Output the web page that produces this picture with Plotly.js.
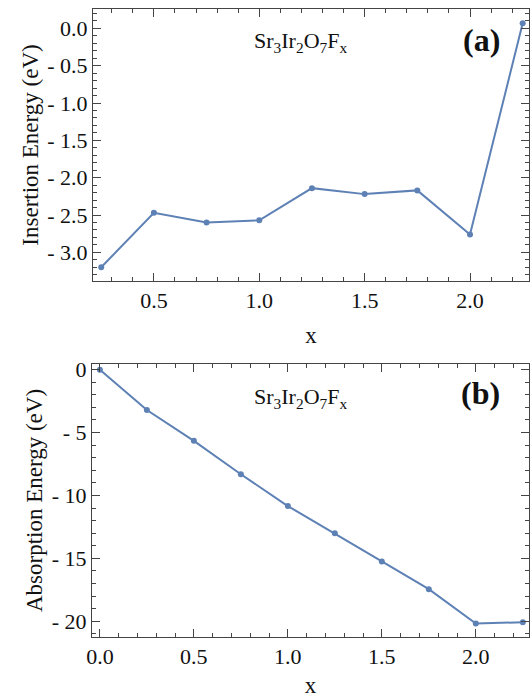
<!DOCTYPE html>
<html>
<head>
<meta charset="utf-8">
<script src="https://cdn.plot.ly/plotly-3.0.1.min.js"></script>
<style>html,body{margin:0;padding:0;background:#fff;}.panel{width:531px;height:349px;}</style>
</head>
<body>
<div id="top" class="panel"></div>
<div id="bottom" class="panel"></div>
<script>
// Data
const xInsertion = [0.25, 0.5, 0.75, 1.0, 1.25, 1.5, 1.75, 2.0, 2.25];
const insertionEnergy = [-3.20, -2.47, -2.60, -2.57, -2.14, -2.22, -2.17, -2.76, 0.07];
const xAbsorption = [0.0, 0.25, 0.5, 0.75, 1.0, 1.25, 1.5, 1.75, 2.0, 2.25];
const absorptionEnergy = [0.0, -3.21, -5.66, -8.31, -10.84, -13.01, -15.24, -17.45, -20.18, -20.08];

const topXTickVals = [0.5, 1.0, 1.5, 2.0];
const topXTickText = ["0.5", "1.0", "1.5", "2.0"];
const topYTickVals = [0.0, -0.5, -1.0, -1.5, -2.0, -2.5, -3.0];
const topYTickText = ["0.0", "- 0.5", "- 1.0", "- 1.5", "- 2.0", "- 2.5", "- 3.0"];
const botXTickVals = [0.0, 0.5, 1.0, 1.5, 2.0];
const botXTickText = ["0.0", "0.5", "1.0", "1.5", "2.0"];
const botYTickVals = [0, -5, -10, -15, -20];
const botYTickText = ["0", "- 5", "- 10", "- 15", "- 20"];

const formula = "Sr<sub>3</sub>Ir<sub>2</sub>O<sub>7</sub>F<sub>x</sub>";

const lineColor = "#5E81B5";
const frameColor = "#444444";
const tickFont = {family: "Liberation Serif", size: 22, color: "#111"};
const titleFont = {family: "Liberation Serif", size: 23, color: "#111"};
const labelFont = {family: "Liberation Serif", size: 32, color: "#111"};

function axis(extra, minorStep) {
  return Object.assign({
    showline: true, linecolor: frameColor, mirror: "allticks",
    ticks: "inside", ticklen: 8, tickcolor: frameColor,
    gridcolor: "#ffffff", zerolinecolor: "#ffffff", tickfont: tickFont,
    minor: {ticks: "inside", ticklen: 4, tickcolor: frameColor, dtick: minorStep}
  }, extra);
}

function panel(id, xs, ys, xaxisOpts, yaxisOpts, margin, letter, fx, fy, lx, ly) {
  const trace = {x: xs, y: ys, mode: "lines+markers", line: {color: lineColor, width: 2},
    marker: {color: lineColor, size: 6}, showlegend: false};
  const layout = {
    width: 531, height: 349, margin: margin,
    paper_bgcolor: "#fff", plot_bgcolor: "#fff", font: tickFont,
    xaxis: xaxisOpts, yaxis: yaxisOpts,
    annotations: [
      {text: formula, xref: "paper", yref: "paper", x: fx, y: fy, xanchor: "center", yanchor: "middle",
       showarrow: false, font: tickFont},
      {text: "<b>" + letter + "</b>", xref: "paper", yref: "paper", x: lx, y: ly, xanchor: "center", yanchor: "middle",
       showarrow: false, font: labelFont}
    ]
  };
  Plotly.newPlot(id, [trace], layout, {displayModeBar: false});
}

panel("top", xInsertion, insertionEnergy,
  axis({range: [0.211, 2.28], tickmode: "array", tickvals: topXTickVals, ticktext: topXTickText,
        title: {text: "x", font: titleFont, standoff: 14}}, 0.1),
  axis({range: [-3.384, 0.26], tickmode: "array", tickvals: topYTickVals, ticktext: topYTickText,
        title: {text: "Insertion Energy (eV)", font: titleFont, standoff: 2}}, 0.1),
  {l: 93, r: 2, t: 9, b: 68}, "(a)", 0.476, 0.879, 0.890, 0.886);

panel("bottom", xAbsorption, absorptionEnergy,
  axis({range: [-0.042, 2.283], tickmode: "array", tickvals: botXTickVals, ticktext: botXTickText,
        title: {text: "x", font: titleFont, standoff: 16}}, 0.1),
  axis({range: [-21.25, 0.45], tickmode: "array", tickvals: botYTickVals, ticktext: botYTickText,
        title: {text: "Absorption Energy (eV)", font: titleFont, standoff: 2}}, 1),
  {l: 92, r: 2, t: 15, b: 61}, "(b)", 0.477, 0.876, 0.890, 0.895);
</script>
</body>
</html>
